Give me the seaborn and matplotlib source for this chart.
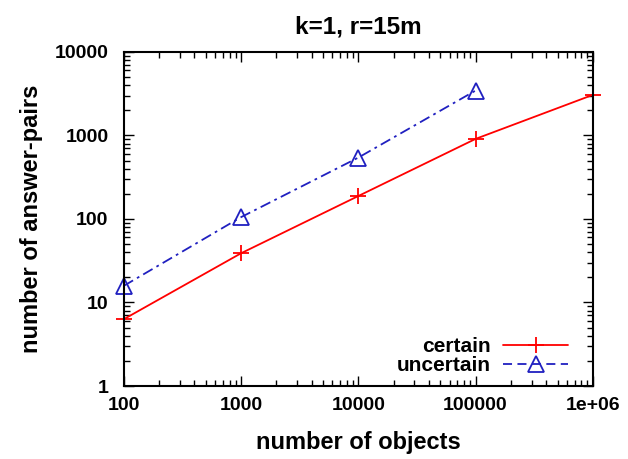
import numpy as np
import pandas as pd
import matplotlib
matplotlib.use("Agg")
import matplotlib.pyplot as plt
from matplotlib.ticker import FixedLocator, FixedFormatter, LogLocator, NullFormatter
from matplotlib.lines import Line2D
import seaborn as sns

# data
objects_certain = [100, 1000, 10000, 100000, 1000000]
pairs_certain = [6.3, 38.8, 188, 908, 3056]
objects_uncertain = [100, 1000, 10000, 100000]
pairs_uncertain = [15.8, 105, 542, 3440]

x_ticks = [100, 1000, 10000, 100000, 1000000]
x_tick_labels = ["100", "1000", "10000", "100000", "1e+06"]
y_ticks = [1, 10, 100, 1000, 10000]
y_tick_labels = ["1", "10", "100", "1000", "10000"]

red = "#ff0000"
blue = "#2020c0"

sns.set_style("ticks")
plt.rcParams['font.family'] = ['Liberation Sans', 'DejaVu Sans']
plt.rcParams['font.weight'] = 'bold'
plt.rcParams['text.color'] = 'black'
plt.rcParams['axes.labelcolor'] = 'black'

fig = plt.figure(figsize=(6.28, 4.59), dpi=100)
ax = fig.add_axes([0.197, 0.159, 0.747, 0.728])

sns.lineplot(x=objects_certain, y=pairs_certain, color=red, marker="+",
             markersize=11, markeredgewidth=1.3, markeredgecolor=red,
             linewidth=1.3, ax=ax)
sns.lineplot(x=objects_uncertain, y=pairs_uncertain, color=blue, marker="^",
             markersize=12, markeredgewidth=1.3, markerfacecolor="none",
             markeredgecolor=blue, linewidth=1.3, dashes=(6, 2.5, 1.5, 2.5), ax=ax)
for line in ax.lines:
    line.set_clip_on(False)

ax.set_xscale("log")
ax.set_yscale("log")
ax.set_xlim(100, 1000000)
ax.set_ylim(1, 10000)

ax.xaxis.set_major_locator(FixedLocator(x_ticks))
ax.xaxis.set_major_formatter(FixedFormatter(x_tick_labels))
ax.yaxis.set_major_locator(FixedLocator(y_ticks))
ax.yaxis.set_major_formatter(FixedFormatter(y_tick_labels))
ax.xaxis.set_minor_locator(LogLocator(base=10, subs=np.arange(2, 10), numticks=20))
ax.yaxis.set_minor_locator(LogLocator(base=10, subs=np.arange(2, 10), numticks=20))
ax.xaxis.set_minor_formatter(NullFormatter())
ax.yaxis.set_minor_formatter(NullFormatter())

ax.tick_params(which="both", direction="in", top=True, right=True, width=1,
               colors="black", labelcolor="black")
ax.tick_params(which="major", length=7, labelsize=14)
ax.tick_params(axis="x", which="major", pad=8)
ax.tick_params(axis="y", which="major", pad=11)
ax.tick_params(which="minor", length=4)
for lbl in ax.get_xticklabels() + ax.get_yticklabels():
    lbl.set_fontweight("bold")
for s in ax.spines.values():
    s.set_linewidth(1.5)
    s.set_color("black")

ax.set_xlabel("number of objects", fontsize=17, fontweight="bold", labelpad=12)
ax.set_ylabel("number of answer-pairs", fontsize=17, fontweight="bold", labelpad=8)
ax.set_title("k=1, r=15m", fontsize=17.5, fontweight="bold", pad=13)

handles = [
    Line2D([], [], color=red, marker="+", markersize=11, markeredgewidth=1.3, linewidth=1.3),
    Line2D([], [], color=blue, marker="^", markersize=12, markerfacecolor="none",
           markeredgewidth=1.3, linewidth=1.3, dashes=(5, 3)),
]
ax.legend(handles, ["certain", "uncertain"], loc="lower right",
          bbox_to_anchor=(0.947, 0.033), frameon=False,
          markerfirst=False, prop={"weight": "bold", "size": 15},
          handlelength=3.1, borderaxespad=0, borderpad=0,
          labelspacing=0.0, handletextpad=0.6)

fig.savefig("out.png", dpi=100)
